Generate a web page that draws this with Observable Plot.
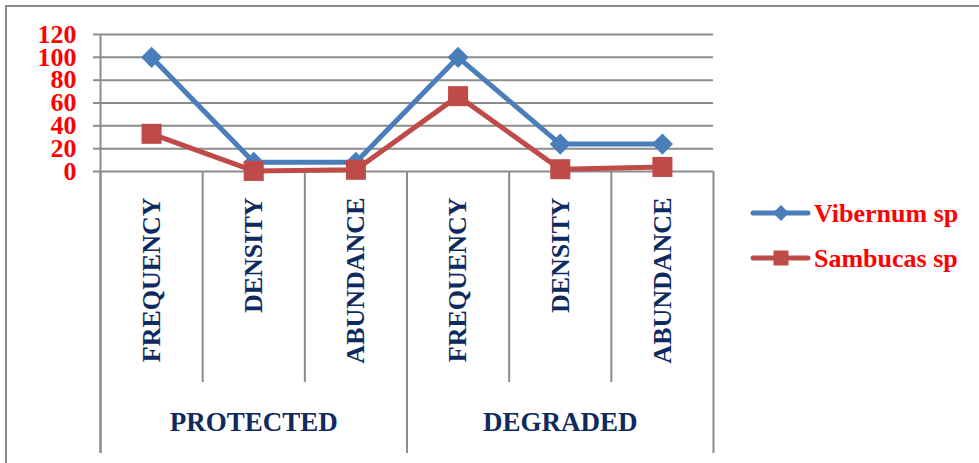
<!DOCTYPE html>
<html>
<head>
<meta charset="utf-8">
<script src="https://cdn.jsdelivr.net/npm/d3@7"></script>
<script src="https://cdn.jsdelivr.net/npm/@observablehq/plot@0.6"></script>
<style>
  html, body { margin: 0; padding: 0; background: #fff; }
  #wrap { position: relative; width: 979px; height: 463px; overflow: hidden; }
  #frame { position: absolute; left: 5px; top: 5px; width: 1000px; height: 500px;
           border-left: 2px solid #8a8a8a; border-top: 2px solid #8a8a8a; }
  #chart { position: absolute; left: 0; top: 0; }
  #legend { position: absolute; left: 0; top: 0; }
</style>
</head>
<body>
<div id="wrap">
  <div id="frame"></div>
  <div id="chart"></div>
  <svg id="legend" width="979" height="463"></svg>
</div>
<script>
// Site condition groups and the measures recorded in each
const groups = ["PROTECTED", "DEGRADED"];
const measures = ["FREQUENCY", "DENSITY", "ABUNDANCE"];

// Species and their values, one per group/measure pair
const seriesNames = ["Vibernum sp", "Sambucas sp"];
const vibernum = [100, 8, 8, 100, 24, 24];
const sambucas = [33, 0.5, 1.5, 66, 2, 4];

// Y axis tick values
const yTicks = [0, 20, 40, 60, 80, 100, 120];

const colors = ["#4A7EBB", "#BE4B48"];
const symbols = ["diamond2", "square"];
const serif = "'Liberation Serif', 'Times New Roman', serif";
const navy = "#0E2A5E";
const gridGray = "#8c8c8c";

// One entry per category along the x axis
const categories = groups.flatMap((g, gi) =>
  measures.map((m, mi) => ({group: g, measure: m, i: gi * measures.length + mi}))
);

// Long-format rows for the two series
const seriesValues = [vibernum, sambucas];
const rows = seriesNames.flatMap((s, si) =>
  categories.map((c, k) => ({series: s, i: c.i, value: seriesValues[si][k]}))
);

// Separators between categories; every group edge is a long separator
const separators = d3.range(categories.length + 1).map(k => ({
  x: k - 0.5,
  major: k % measures.length === 0
}));

const groupLabels = groups.map((g, gi) => ({
  group: g,
  x: gi * measures.length + (measures.length - 1) / 2
}));

const seriesMarks = seriesNames.flatMap((s, si) => {
  const data = rows.filter(d => d.series === s);
  return [
    Plot.line(data, {x: "i", y: "value", stroke: colors[si], strokeWidth: 5, strokeLinejoin: "round"}),
    Plot.dot(data, {x: "i", y: "value", symbol: () => symbols[si], fill: colors[si],
                    stroke: "none", r: si === 0 ? 9.5 : 11.3})
  ];
});

// Lengths (px) by which separators reach below the zero line
const longDrop = 282;
const shortDrop = 211;

const chart = Plot.plot({
  width: 979,
  height: 463,
  marginLeft: 100,
  marginRight: 266,
  marginTop: 34,
  marginBottom: 10,
  style: {fontFamily: serif, background: "transparent", overflow: "visible"},
  x: {domain: [-0.5, categories.length - 0.5], axis: null},
  y: {domain: [0, 120], range: [171, 34], axis: null},
  symbol: {type: "identity"},
  marks: [
    // horizontal gridlines
    Plot.ruleY(yTicks, {stroke: gridGray, strokeWidth: 2}),
    // y axis ticks and labels
    Plot.axisY(yTicks, {
      tickSize: 7, tickPadding: 17, label: null,
      stroke: gridGray, strokeWidth: 2,
      fill: "#FF0000", fontSize: 26, fontWeight: "bold", fontFamily: serif
    }),
    // y axis line, running down through the category area
    Plot.ruleX([-0.5], {x: d => d, y1: 120, y2: 0, insetBottom: -longDrop, stroke: gridGray, strokeWidth: 2}),
    // category separators below the zero line
    Plot.ruleX(separators.filter(d => d.major), {x: "x", y1: 0, y2: 0, insetBottom: -longDrop, stroke: gridGray, strokeWidth: 2}),
    Plot.ruleX(separators.filter(d => !d.major), {x: "x", y1: 0, y2: 0, insetBottom: -shortDrop, stroke: gridGray, strokeWidth: 2}),
    // rotated measure labels
    Plot.text(categories, {
      x: "i", y: () => 0, text: "measure", rotate: -90, textAnchor: "end",
      dy: 26, fontSize: 26, fontWeight: "bold", fill: navy
    }),
    // group labels
    Plot.text(groupLabels, {
      x: "x", y: () => 0, text: "group", dy: 251,
      fontSize: 27, fontWeight: "bold", fill: navy
    }),
    ...seriesMarks
  ]
});
document.getElementById("chart").appendChild(chart);

// Legend to the right of the plot
const legend = d3.select("#legend");
const legendRows = seriesNames.map((s, si) => ({name: s, color: colors[si], symbol: symbols[si], y: 213 + si * 45}));
const item = legend.selectAll("g").data(legendRows).join("g")
  .attr("transform", d => `translate(753,${d.y})`);
item.append("line")
  .attr("x1", 0).attr("x2", 55).attr("y1", 0).attr("y2", 0)
  .attr("stroke", d => d.color).attr("stroke-width", 5).attr("stroke-linecap", "round");
item.append("path")
  .attr("transform", "translate(28,0)")
  .attr("d", d => d.symbol === "square"
    ? d3.symbol(d3.symbolSquare, 15 * 15)()
    : d3.symbol(d3.symbolDiamond2, (8 / 0.62625) ** 2)())
  .attr("fill", d => d.color);
item.append("text")
  .attr("x", 61).attr("y", 0).attr("dy", "0.35em")
  .attr("font-family", serif).attr("font-weight", "bold").attr("font-size", 26)
  .attr("fill", "#FF0000")
  .text(d => d.name);
</script>
</body>
</html>
